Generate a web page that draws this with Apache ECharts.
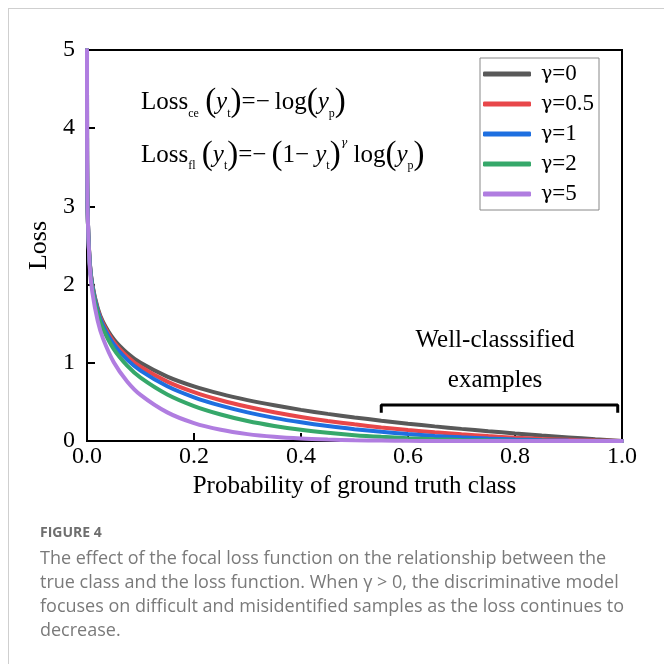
<!DOCTYPE html>
<html>
<head>
<meta charset="utf-8">
<script src="https://cdn.jsdelivr.net/npm/echarts@6/dist/echarts.min.js"></script>
<style>html,body{margin:0;padding:0;background:#fff;}#c{width:664px;height:664px;}</style>
</head>
<body>
<div id="c"></div>
<script>
// Probability of ground truth class (x)
var probs = [0.00001, 0.0001, 0.001, 0.005, 0.01, 0.02, 0.03, 0.05, 0.075, 0.1, 0.15, 0.2, 0.25, 0.3, 0.35, 0.4, 0.45, 0.5, 0.55, 0.6, 0.65, 0.7, 0.75, 0.8, 0.85, 0.9, 0.95, 1.0];
var seriesNames = ['γ=0', 'γ=0.5', 'γ=1', 'γ=2', 'γ=5'];
var lossG0   = [5, 4, 3, 2.301, 2.0, 1.699, 1.523, 1.301, 1.125, 1.0, 0.824, 0.699, 0.602, 0.523, 0.456, 0.398, 0.347, 0.301, 0.260, 0.222, 0.187, 0.155, 0.125, 0.097, 0.071, 0.046, 0.022, 0];
var lossG05  = [5, 4, 2.999, 2.295, 1.990, 1.682, 1.500, 1.268, 1.082, 0.949, 0.760, 0.625, 0.521, 0.438, 0.368, 0.308, 0.257, 0.213, 0.174, 0.140, 0.111, 0.085, 0.0625, 0.043, 0.027, 0.015, 0.005, 0];
var lossG1   = [5, 4, 2.997, 2.290, 1.980, 1.665, 1.477, 1.236, 1.041, 0.900, 0.700, 0.559, 0.452, 0.366, 0.296, 0.239, 0.191, 0.151, 0.117, 0.089, 0.065, 0.047, 0.031, 0.019, 0.011, 0.005, 0.001, 0];
var lossG2   = [5, 4, 2.994, 2.278, 1.960, 1.632, 1.433, 1.174, 0.963, 0.810, 0.595, 0.447, 0.339, 0.256, 0.193, 0.143, 0.105, 0.075, 0.053, 0.036, 0.023, 0.014, 0.008, 0.004, 0.002, 0.0005, 0.0001, 0];
var lossG5   = [5, 3.998, 2.985, 2.244, 1.902, 1.536, 1.309, 1.007, 0.762, 0.590, 0.366, 0.229, 0.143, 0.088, 0.053, 0.031, 0.018, 0.009, 0.005, 0.002, 0.001, 0.0004, 0.0001, 0, 0, 0, 0, 0];
var seriesColors = ['#595959', '#e8474a', '#1e6fe0', '#36a86a', '#b07de0'];
var xTicks = [0, 0.2, 0.4, 0.6, 0.8, 1.0];
var bracketX = [0.55, 0.55, 0.992, 0.992];
var bracketY = [0.36, 0.46, 0.46, 0.36];

var allLoss = [lossG0, lossG05, lossG1, lossG2, lossG5];
var serif = 'Liberation Serif';
var greek = 'DejaVu Serif';

function pairs(xs, ys) { return xs.map(function (x, i) { return [x, ys[i]]; }); }

var series = allLoss.map(function (vals, k) {
  return {
    name: seriesNames[k], type: 'line', data: pairs(probs, vals),
    showSymbol: false, symbol: 'none', smooth: 0.3,
    lineStyle: { color: seriesColors[k], width: 4, cap: 'round' },
    itemStyle: { color: seriesColors[k] },
    z: 2 + k
  };
});
series.push({
  name: 'bracket', type: 'line', data: pairs(bracketX, bracketY),
  showSymbol: false, symbol: 'none',
  lineStyle: { color: '#000', width: 3 }, z: 10, silent: true
});

var nStyle = { fontFamily: serif, fontSize: 25, lineHeight: 34, verticalAlign: 'middle', fill: '#000', color: '#000' };
var iStyle = { fontFamily: serif, fontSize: 25, fontStyle: 'italic', lineHeight: 34, verticalAlign: 'middle', fill: '#000', color: '#000' };
var pStyle = { fontFamily: serif, fontSize: 33, lineHeight: 34, verticalAlign: 'middle', fill: '#000', color: '#000' };
var sStyle = { fontFamily: serif, fontSize: 12, lineHeight: 16, verticalAlign: 'bottom', fill: '#000', color: '#000' };
var eStyle = { fontFamily: greek, fontSize: 11, fontStyle: 'italic', lineHeight: 16, verticalAlign: 'top', fill: '#000', color: '#000' };
var formulaRich = { n: nStyle, i: iStyle, p: pStyle, s: sStyle, e: eStyle };
var thin = '\u2009';

// Legend labels: serif text beside the library's legend icons
var legendFirstCenter = 74, legendItemStep = 30, legendTextX = 541;
var legendLabels = seriesNames.map(function (n, k) {
  return {
    type: 'text', x: legendTextX, y: legendFirstCenter + k * legendItemStep, z: 100,
    style: {
      text: '{g|' + n.charAt(0) + '}{t|' + n.slice(1) + '}', verticalAlign: 'middle',
      rich: {
        g: { fontFamily: greek, fontSize: 19, fill: '#000', lineHeight: 24, verticalAlign: 'middle' },
        t: { fontFamily: serif, fontSize: 23, fill: '#000', lineHeight: 24, verticalAlign: 'middle' }
      }
    }
  };
});

var chart = echarts.init(document.getElementById('c'), null, { renderer: 'canvas' });
chart.setOption({
  animation: false,
  backgroundColor: '#fff',
  textStyle: { fontFamily: serif },
  grid: { left: 87, right: 42, top: 50, bottom: 223, show: true, borderColor: '#000', borderWidth: 2, backgroundColor: 'transparent' },
  xAxis: {
    type: 'value', min: 0, max: 1, interval: 0.2,
    name: 'Probability of ground truth class', nameLocation: 'middle', nameGap: 33,
    nameTextStyle: { fontFamily: serif, fontSize: 25, color: '#000' },
    axisLine: { lineStyle: { color: '#000', width: 2 } },
    axisTick: { inside: true, length: 8, lineStyle: { color: '#000', width: 2 } },
    axisLabel: { fontFamily: serif, fontSize: 24, color: '#000', margin: 4, formatter: function (v) { return v.toFixed(1); } },
    splitLine: { show: false }
  },
  yAxis: {
    type: 'value', min: 0, max: 5, interval: 1,
    name: 'Loss', nameLocation: 'middle', nameGap: 35, nameRotate: 90,
    nameTextStyle: { fontFamily: serif, fontSize: 26, color: '#000' },
    axisLine: { lineStyle: { color: '#000', width: 2 } },
    axisTick: { inside: true, length: 8, lineStyle: { color: '#000', width: 2 } },
    axisLabel: { fontFamily: serif, fontSize: 24, color: '#000', margin: 12 },
    splitLine: { show: false }
  },
  legend: {
    data: seriesNames,
    orient: 'vertical', left: 480, top: 58,
    padding: [5, 4, 5, 3], itemGap: 8, itemWidth: 48, itemHeight: 5, icon: 'roundRect',
    borderColor: '#888', borderWidth: 1,
    formatter: function () { return ' '; },
    textStyle: { fontSize: 22, lineHeight: 22, width: 54, color: 'rgba(0,0,0,0)', padding: [0, 0, 0, 5] }
  },
  graphic: [
    { type: 'line', shape: { x1: 8.5, y1: 8, x2: 8.5, y2: 664 }, style: { stroke: '#cfcfcf', lineWidth: 1 } },
    { type: 'line', shape: { x1: 8, y1: 8.5, x2: 664, y2: 8.5 }, style: { stroke: '#cfcfcf', lineWidth: 1 } },
    {
      type: 'text', left: 141, top: 86,
      style: {
        text: '{n|Loss}{s|ce}{n| }{p|(}{i|y}{s|t}{p|)}{n|=−' + thin + 'log}{p|(}{i|y}{s|p}{p|)}',
        rich: formulaRich
      }
    },
    {
      type: 'text', left: 141, top: 138,
      style: {
        text: '{n|Loss}{s|fl}{n| }{p|(}{i|y}{s|t}{p|)}{n|=−' + thin + '}{p|(}{n|1− }{i|y}{s|t}{p|)}{e|γ}{n| log}{p|(}{i|y}{s|p}{p|)}',
        rich: formulaRich
      }
    },
    { type: 'text', x: 495, y: 340, style: { text: 'Well-classsified', fontFamily: serif, fontSize: 25, fill: '#000', align: 'center', verticalAlign: 'middle' } },
    { type: 'text', x: 495, y: 380, style: { text: 'examples', fontFamily: serif, fontSize: 25, fill: '#000', align: 'center', verticalAlign: 'middle' } },
    { type: 'text', x: 40, y: 533, style: { text: 'FIGURE 4', fontFamily: 'Open Sans', fontWeight: 'bold', fontSize: 14, fill: '#6e6e6e', verticalAlign: 'middle' } },
    { type: 'text', x: 40, y: 559, style: { text: 'The effect of the focal loss function on the relationship between the', fontFamily: 'Open Sans', fontSize: 18, fill: '#7a7a7a', verticalAlign: 'middle' } },
    { type: 'text', x: 40, y: 583, style: { text: 'true class and the loss function. When γ > 0, the discriminative model', fontFamily: 'Open Sans', fontSize: 18, fill: '#7a7a7a', verticalAlign: 'middle' } },
    { type: 'text', x: 40, y: 607, style: { text: 'focuses on difficult and misidentified samples as the loss continues to', fontFamily: 'Open Sans', fontSize: 18, fill: '#7a7a7a', verticalAlign: 'middle' } },
    { type: 'text', x: 40, y: 631, style: { text: 'decrease.', fontFamily: 'Open Sans', fontSize: 18, fill: '#7a7a7a', verticalAlign: 'middle' } }
  ].concat(legendLabels),
  series: series
});
</script>
</body>
</html>
